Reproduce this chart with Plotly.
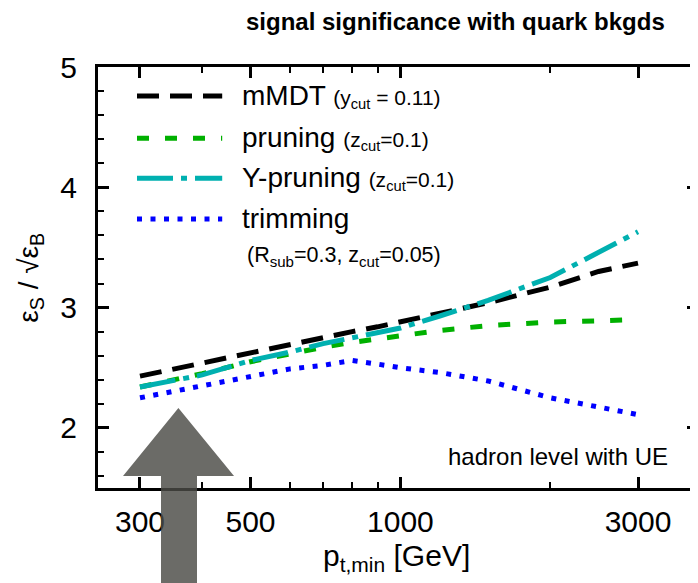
import plotly.graph_objects as go

# данные
pt = [300, 400, 500, 600, 700, 800, 900, 1000, 1200, 1500, 2000, 2500, 3000]
mmdt = [2.43, 2.54, 2.63, 2.70, 2.75, 2.80, 2.84, 2.88, 2.95, 3.04, 3.17, 3.30, 3.37]
pruning = [2.34, 2.45, 2.55, 2.62, 2.67, 2.71, 2.74, 2.76, 2.81, 2.85, 2.88, 2.89, 2.90]
ypruning = [2.34, 2.44, 2.56, 2.63, 2.70, 2.75, 2.79, 2.83, 2.93, 3.06, 3.25, 3.46, 3.63]
trimming = [2.25, 2.35, 2.43, 2.49, 2.52, 2.56, 2.53, 2.50, 2.46, 2.39, 2.25, 2.17, 2.11]

names = ['mMDT', 'pruning', 'Y-pruning', 'trimming']
params = ['(y<sub>cut</sub> = 0.11)', '(z<sub>cut</sub>=0.1)', '(z<sub>cut</sub>=0.1)', '']
x_ticks = [300, 500, 1000, 3000]
x_minor = [400, 600, 700, 800, 900, 2000]

FONT = 'Liberation Sans, Arial, sans-serif'
styles = [
    dict(color='#000000', width=5, dash='22px,11px'),
    dict(color='#00b000', width=5, dash='12px,16px'),
    dict(color='#00b0b0', width=5, dash='36px,8px,6px,8px'),
    dict(color='#0000ff', width=5, dash='5px,8.5px'),
]

fig = go.Figure()
for name, ys, st in zip(names, [mmdt, pruning, ypruning, trimming], styles):
    fig.add_trace(go.Scatter(x=pt, y=ys, mode='lines', name=name, line=st, showlegend=False))

# легенда вручную (длинные образцы линий)
row_y = [0.931, 0.831, 0.736, 0.639]
for name, par, st, yy in zip(names, params, styles, row_y):
    fig.add_shape(type='line', xref='paper', yref='paper', x0=0.065, x1=0.207, y0=yy, y1=yy,
                  line=st)
    txt = name + (' <span style="font-size:21px">' + par + '</span>' if par else '')
    fig.add_annotation(xref='paper', yref='paper', x=0.237, y=yy, xanchor='left', yanchor='middle',
                       text=txt, showarrow=False, font=dict(size=28, color='black', family=FONT))
fig.add_annotation(xref='paper', yref='paper', x=0.245, y=0.549, xanchor='left', yanchor='middle',
                   text='(R<sub>sub</sub>=0.3, z<sub>cut</sub>=0.05)', showarrow=False,
                   font=dict(size=21.5, color='black', family=FONT))

fig.add_annotation(xref='paper', yref='paper', x=0.953, y=0.074, xanchor='right', yanchor='middle',
                   text='hadron level with UE', showarrow=False,
                   font=dict(size=24, color='black', family=FONT))

# заголовок и подписи осей
fig.add_annotation(xref='paper', yref='paper', x=0.595, y=1.108, xanchor='center', yanchor='middle',
                   text='<b>signal significance with quark bkgds</b>', showarrow=False,
                   font=dict(size=24, color='black', family=FONT))
fig.add_annotation(xref='paper', yref='paper', x=0.498, y=-0.165, xanchor='center', yanchor='middle',
                   text='p<sub>t,min</sub> [GeV]', showarrow=False,
                   font=dict(size=30, color='black', family=FONT))
fig.add_annotation(xref='paper', yref='paper', x=-0.113, y=0.5, xanchor='center', yanchor='middle',
                   text='ε<sub>S</sub> / √ε<sub>B</sub>', showarrow=False, textangle=-90,
                   font=dict(size=28, color='black', family=FONT))

# серая стрелка
fig.add_shape(type='path', xref='paper', yref='paper', layer='above',
              path='M 0.105,-0.3 L 0.105,0.0285 L 0.0417,0.0285 L 0.134,0.190 '
                   'L 0.2267,0.0285 L 0.165,0.0285 L 0.165,-0.3 Z',
              fillcolor='rgba(75,75,70,0.82)', line=dict(width=0))

axis_common = dict(showline=True, linewidth=3, linecolor='black', mirror='ticks',
                   ticks='inside', ticklen=11, tickwidth=2.5, tickcolor='black',
                   showgrid=False, zeroline=False, automargin=False,
                   tickfont=dict(size=30, color='black', family=FONT))

# страница имеет отступ 8px у body, поэтому фигура чуть меньше окна
fig.update_layout(
    width=690, height=575,
    margin=dict(l=90, r=0, t=59, b=95),
    paper_bgcolor='white', plot_bgcolor='white',
    xaxis=dict(type='log', range=[2.3928, 3.5976], tickmode='array', tickvals=x_ticks,
               ticktext=[str(v) for v in x_ticks], ticklabelstandoff=5,
               minor=dict(tickmode='array', tickvals=x_minor, ticks='inside', ticklen=6,
                          tickwidth=2, tickcolor='black'),
               **axis_common),
    yaxis=dict(range=[1.5, 5], tickmode='array', tickvals=[2, 3, 4, 5], ticklabelstandoff=12,
               minor=dict(dtick=0.2, ticks='inside', ticklen=6, tickwidth=2, tickcolor='black'),
               **axis_common),
)

fig.write_html("out.html")
